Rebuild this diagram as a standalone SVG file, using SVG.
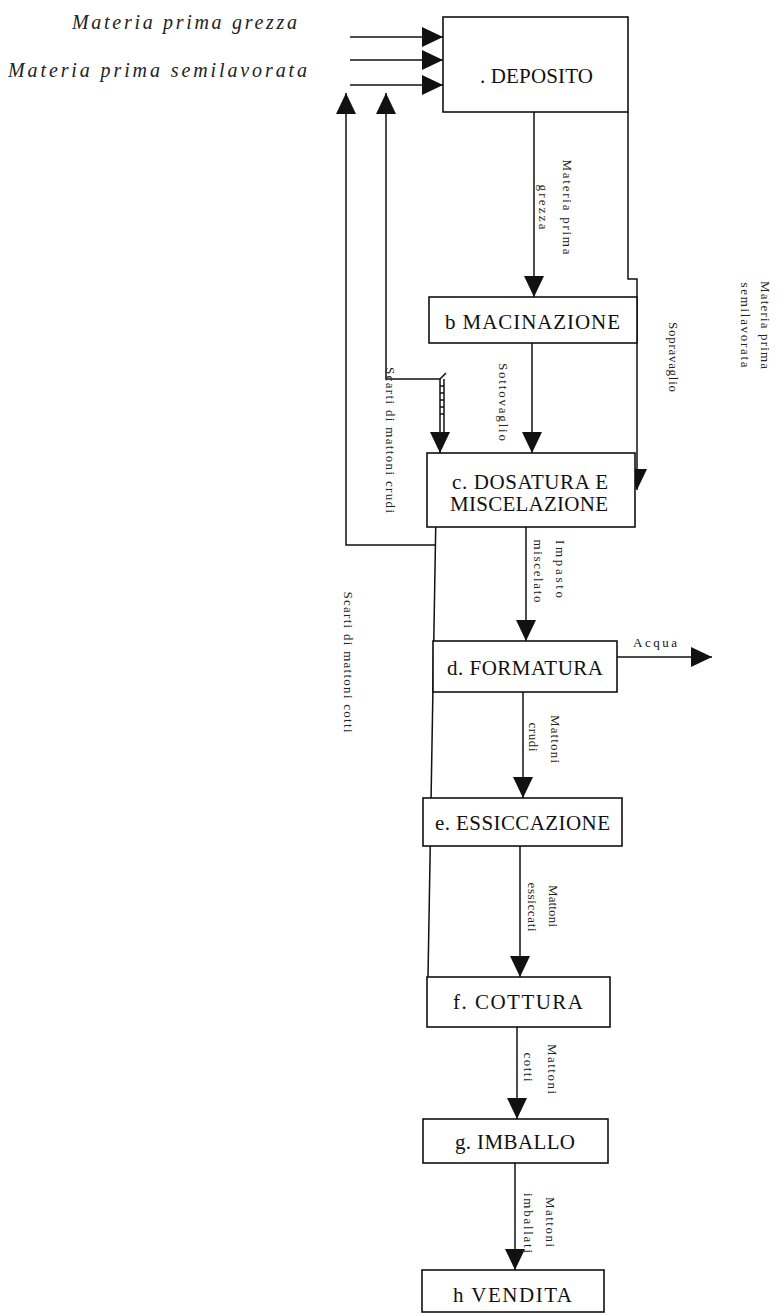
<svg xmlns="http://www.w3.org/2000/svg" width="781" height="1315" viewBox="0 0 781 1315">
<style>
.box{fill:#fff;stroke:#111;stroke-width:1.6}
.lbl{font-family:"Liberation Serif","Times New Roman",serif;font-size:21px;fill:#111}
.it{font-family:"Liberation Serif","Times New Roman",serif;font-style:italic;font-size:20px;fill:#222}
.rot{font-family:"Liberation Serif","Times New Roman",serif;font-size:13px;fill:#222;text-anchor:middle}
.ln{fill:none;stroke:#111;stroke-width:1.5}
</style>
<defs>
<marker id="ah" markerUnits="userSpaceOnUse" markerWidth="22" markerHeight="22" refX="21" refY="10" orient="auto">
<path d="M0,0 L21,10 L0,20 z" fill="#111"/>
</marker>
</defs>
<rect width="781" height="1315" fill="#fff"/>
<g id="inputs">
<text class="it" x="72" y="29" textLength="225" lengthAdjust="spacing">Materia prima grezza</text>
<text class="it" x="8" y="77" textLength="299" lengthAdjust="spacing">Materia prima semilavorata</text>
</g>
<g id="connectors">
<path class="ln" d="M350,37 H443" marker-end="url(#ah)"/>
<path class="ln" d="M350,60 H443" marker-end="url(#ah)"/>
<path class="ln" d="M350,85 H443" marker-end="url(#ah)"/>
<path class="ln" d="M436,545 H346 V93" marker-end="url(#ah)"/>
<path class="ln" d="M440,379 H386 V93" marker-end="url(#ah)"/>
<path class="ln" d="M534,112 V297" marker-end="url(#ah)"/>
<path class="ln" d="M628,112 V279 H637 V490" marker-end="url(#ah)"/>
<path class="ln" d="M532,343 V453" marker-end="url(#ah)"/>
<path class="ln" d="M440,379 V453" marker-end="url(#ah)"/>
<path class="ln" d="M444,379 V433"/>
<path class="ln" d="M440,386 H444 M440,393 H444 M440,400 H444 M440,407 H444 M440,414 H444 M440,379 L446,373"/>
<path class="ln" d="M437,453 L428,977"/>
<path class="ln" d="M526,527 V641" marker-end="url(#ah)"/>
<path class="ln" d="M617,657 H712" marker-end="url(#ah)"/>
<path class="ln" d="M523,692 V798" marker-end="url(#ah)"/>
<path class="ln" d="M520,846 V977" stroke-width="4" marker-end="url(#ah)"/>
<path class="ln" d="M517,1027 V1119" marker-end="url(#ah)"/>
<path class="ln" d="M515,1163 V1270" marker-end="url(#ah)"/>
</g>
<g id="deposito">
<rect class="box" x="443" y="17" width="185" height="95"/>
<text class="lbl" x="480" y="83" textLength="113" lengthAdjust="spacing">. DEPOSITO</text>
</g>
<g id="macinazione">
<rect class="box" x="429" y="297" width="208" height="46"/>
<text class="lbl" x="445" y="329" textLength="175" lengthAdjust="spacing">b MACINAZIONE</text>
</g>
<g id="dosatura">
<rect class="box" x="427" y="453" width="208" height="74"/>
<text class="lbl" x="452" y="489" textLength="156" lengthAdjust="spacing">c. DOSATURA E</text>
<text class="lbl" x="450" y="511" textLength="158" lengthAdjust="spacing">MISCELAZIONE</text>
</g>
<g id="formatura">
<rect class="box" x="433" y="641" width="184" height="51"/>
<text class="lbl" x="447" y="675" textLength="156" lengthAdjust="spacing">d. FORMATURA</text>
</g>
<g id="essiccazione">
<rect class="box" x="423" y="798" width="199" height="48"/>
<text class="lbl" x="435" y="830" textLength="175" lengthAdjust="spacing">e. ESSICCAZIONE</text>
</g>
<g id="cottura">
<rect class="box" x="427" y="977" width="183" height="50"/>
<text class="lbl" x="453" y="1009" textLength="130" lengthAdjust="spacing">f. COTTURA</text>
</g>
<g id="imballo">
<rect class="box" x="423" y="1119" width="185" height="44"/>
<text class="lbl" x="455" y="1149" textLength="120" lengthAdjust="spacing">g. IMBALLO</text>
</g>
<g id="vendita">
<rect class="box" x="422" y="1270" width="182" height="42"/>
<text class="lbl" x="453" y="1302" textLength="119" lengthAdjust="spacing">h VENDITA</text>
</g>
<g id="labels">
<text class="rot" transform="translate(563,207) rotate(90)" textLength="95" lengthAdjust="spacing">Materia prima</text>
<text class="rot" transform="translate(539,207) rotate(90)" textLength="45" lengthAdjust="spacing">grezza</text>
<text class="rot" transform="translate(761,325) rotate(90)" textLength="88" lengthAdjust="spacing">Materia prima</text>
<text class="rot" transform="translate(741,325) rotate(90)" textLength="85" lengthAdjust="spacing">semilavorata</text>
<text class="rot" transform="translate(669,357) rotate(90)" textLength="70" lengthAdjust="spacing">Sopravaglio</text>
<text class="rot" transform="translate(499,402) rotate(90)" textLength="78" lengthAdjust="spacing">Sottovaglio</text>
<text class="rot" transform="translate(386,440) rotate(90)" textLength="146" lengthAdjust="spacing">Scarti di mattoni crudi</text>
<text class="rot" transform="translate(556,569) rotate(90)" textLength="58" lengthAdjust="spacing">Impasto</text>
<text class="rot" transform="translate(534,571) rotate(90)" textLength="63" lengthAdjust="spacing">miscelato</text>
<text class="rot" transform="translate(344,662) rotate(90)" textLength="141" lengthAdjust="spacing">Scarti di mattoni cotti</text>
<text class="rot" transform="translate(551,739) rotate(90)" textLength="48" lengthAdjust="spacing">Mattoni</text>
<text class="rot" transform="translate(529,737) rotate(90)" textLength="29" lengthAdjust="spacing">crudi</text>
<text class="rot" transform="translate(549,906) rotate(90)" textLength="42" lengthAdjust="spacing">Mattoni</text>
<text class="rot" transform="translate(528,907) rotate(90)" textLength="49" lengthAdjust="spacing">essiccati</text>
<text class="rot" transform="translate(548,1069) rotate(90)" textLength="50" lengthAdjust="spacing">Mattoni</text>
<text class="rot" transform="translate(524,1067) rotate(90)" textLength="29" lengthAdjust="spacing">cotti</text>
<text class="rot" transform="translate(546,1222) rotate(90)" textLength="50" lengthAdjust="spacing">Mattoni</text>
<text class="rot" transform="translate(524,1223) rotate(90)" textLength="60" lengthAdjust="spacing">imballati</text>
<text x="633" y="647" font-family="Liberation Serif, serif" font-size="13" fill="#111" textLength="44" lengthAdjust="spacing">Acqua</text>
</g>
</svg>
